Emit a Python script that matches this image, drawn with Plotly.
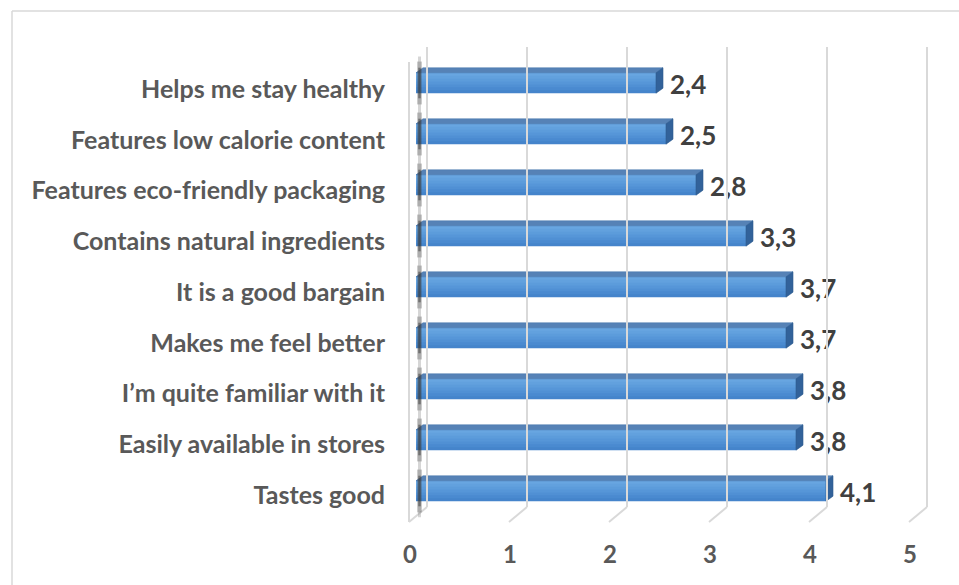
import plotly.graph_objects as go

# Survey attributes (top to bottom) and mean scores
categories = [
    "Helps me stay healthy",
    "Features low calorie content",
    "Features eco-friendly packaging",
    "Contains natural ingredients",
    "It is a good bargain",
    "Makes me feel better",
    "I\u2019m quite familiar with it",
    "Easily available in stores",
    "Tastes good",
]
scores = [2.4, 2.5, 2.8, 3.3, 3.7, 3.7, 3.8, 3.8, 4.1]
x_ticks = [0, 1, 2, 3, 4, 5]

# plotting order: bottom bar first
cats = categories[::-1]
vals = scores[::-1]
pos = list(range(len(cats)))

W, H = 959, 585
ML, MR, MT, MB = 400, 29, 47, 63
plot_w = W - ML - MR
plot_h = H - MT - MB

PX_X = 100.0          # pixels per unit on x
PX_Y = 51.0           # pixels per category step (bars)
PX_Y_LAB = 50.75      # pixels per category step (labels)
x_range = [-16 / PX_X, -16 / PX_X + plot_w / PX_X]
bar_center_bottom = 491 - MT   # px from top of plot area for bottom bar
lab_center_bottom = 495 - MT
y_range = [-(plot_h - bar_center_bottom) / PX_Y, bar_center_bottom / PX_Y]
y2_range = [-(plot_h - lab_center_bottom) / PX_Y_LAB, lab_center_bottom / PX_Y_LAB]

bar_w = 0.40
dx = 7 / PX_X         # depth offset of the 3D faces
dy = 5 / PX_Y

label_font = dict(family="Lato", size=25, color="#595959", weight="bold")

fig = go.Figure()

# front face of each bar: overlapping layers from dark bottom to light top
strip_colors = ["#4584cb", "#4a8ad0", "#5090d4", "#5696d8", "#5c9cdb",
                "#62a1de", "#68a6e1"]
n = len(strip_colors)
sh = bar_w / n
for i, c in enumerate(strip_colors):
    fig.add_trace(go.Bar(
        x=vals, y=pos, orientation="h", base=0,
        width=bar_w - i * sh, offset=-bar_w / 2 + i * sh,
        marker=dict(color=c, line=dict(width=0)),
        hoverinfo="skip", showlegend=False,
    ))

# top and side faces of the bars
top_x, top_y, side_x, side_y = [], [], [], []
for k, v in zip(pos, vals):
    yt = k + bar_w / 2
    yb = k - bar_w / 2
    top_x += [0, v, v + dx, dx, 0, None]
    top_y += [yt, yt, yt + dy, yt + dy, yt, None]
    side_x += [v, v, v + dx, v + dx, v, None]
    side_y += [yb, yt, yt + dy, yb + dy, yb, None]
fig.add_trace(go.Scatter(x=top_x, y=top_y, fill="toself", mode="lines",
                         line=dict(width=0.6, color="#4d7bb0"),
                         fillcolor="#5682b6", hoverinfo="skip", showlegend=False))
fig.add_trace(go.Scatter(x=side_x, y=side_y, fill="toself", mode="lines",
                         line=dict(width=0.6, color="#2c5a8f"),
                         fillcolor="#32629a", hoverinfo="skip", showlegend=False))

# value labels with decimal comma
fig.add_trace(go.Scatter(
    x=[v + dx + 0.07 for v in vals], y=[k - 0.08 for k in pos], mode="text",
    text=[f"{v:.1f}".replace(".", ",") for v in vals],
    textposition="middle right",
    textfont=dict(family="Lato", size=26, color="#404040", weight="bold"),
    hoverinfo="skip", showlegend=False,
))

# category labels on their own axis
fig.add_trace(go.Scatter(x=[0] * len(pos), y=pos, yaxis="y2", mode="markers",
                         marker=dict(opacity=0), hoverinfo="skip", showlegend=False))

shapes = []
grid_col = "#d9d9d9"
back_y = 15 / plot_h           # back edge of the floor, in paper units
back_dx = 11 / PX_X
front_dx = -7 / PX_X
for t in x_ticks:
    # wall gridline
    shapes.append(dict(type="line", xref="x", yref="paper",
                       x0=t + back_dx, x1=t + back_dx, y0=back_y, y1=1,
                       line=dict(color=grid_col, width=2)))
    # floor gridline
    shapes.append(dict(type="line", xref="x", yref="paper",
                       x0=t + front_dx, x1=t + back_dx, y0=0, y1=back_y,
                       line=dict(color=grid_col, width=2)))
# left side wall: front edge and shading
shapes.append(dict(type="line", xref="x", yref="paper",
                   x0=front_dx, x1=front_dx, y0=0, y1=1 - back_y,
                   line=dict(color=grid_col, width=2)))
shapes.append(dict(type="line", xref="x", yref="paper",
                   x0=0.035, x1=0.035, y0=0.01, y1=0.98,
                   line=dict(color="rgba(120,120,120,0.3)", width=3)))
for k in pos:
    shapes.append(dict(type="line", xref="x", yref="y",
                       x0=0.035, x1=0.035, y0=k - 0.42, y1=k + 0.42,
                       line=dict(color="rgba(50,50,50,0.25)", width=5)))
    shapes.append(dict(type="line", xref="x", yref="y",
                       x0=0.035, x1=0.035, y0=k - 0.3, y1=k + 0.3,
                       line=dict(color="rgba(40,40,40,0.45)", width=2.5)))

# chart frame
fx = (12 - ML) / plot_w
fy = 1 + (MT - 11) / plot_h
shapes.append(dict(type="line", xref="paper", yref="paper",
                   x0=fx, x1=fx, y0=fy, y1=-0.2,
                   line=dict(color="#d9d9d9", width=1.5)))
shapes.append(dict(type="line", xref="paper", yref="paper",
                   x0=fx, x1=1.2, y0=fy, y1=fy,
                   line=dict(color="#d9d9d9", width=1.5)))

fig.update_layout(
    width=W, height=H,
    margin=dict(l=ML, r=MR, t=MT, b=MB, autoexpand=False),
    paper_bgcolor="white", plot_bgcolor="white",
    barmode="overlay",
    showlegend=False,
    shapes=shapes,
    xaxis=dict(range=x_range, tickvals=x_ticks, ticktext=[str(t) for t in x_ticks],
               showgrid=False, zeroline=False, showline=False, ticks="",
               automargin=False,
               ticklabelshift=-6, ticklabelstandoff=16,
               tickfont=dict(family="Lato", size=24, color="#595959", weight="bold")),
    yaxis=dict(range=y_range, visible=False, showgrid=False, zeroline=False,
               automargin=False),
    yaxis2=dict(range=y2_range, overlaying="y", side="left", automargin=False,
                tickvals=pos, ticktext=cats, showgrid=False, zeroline=False,
                showline=False, ticks="", ticklabelstandoff=14,
                tickfont=label_font),
)

fig.write_html("out.html")
